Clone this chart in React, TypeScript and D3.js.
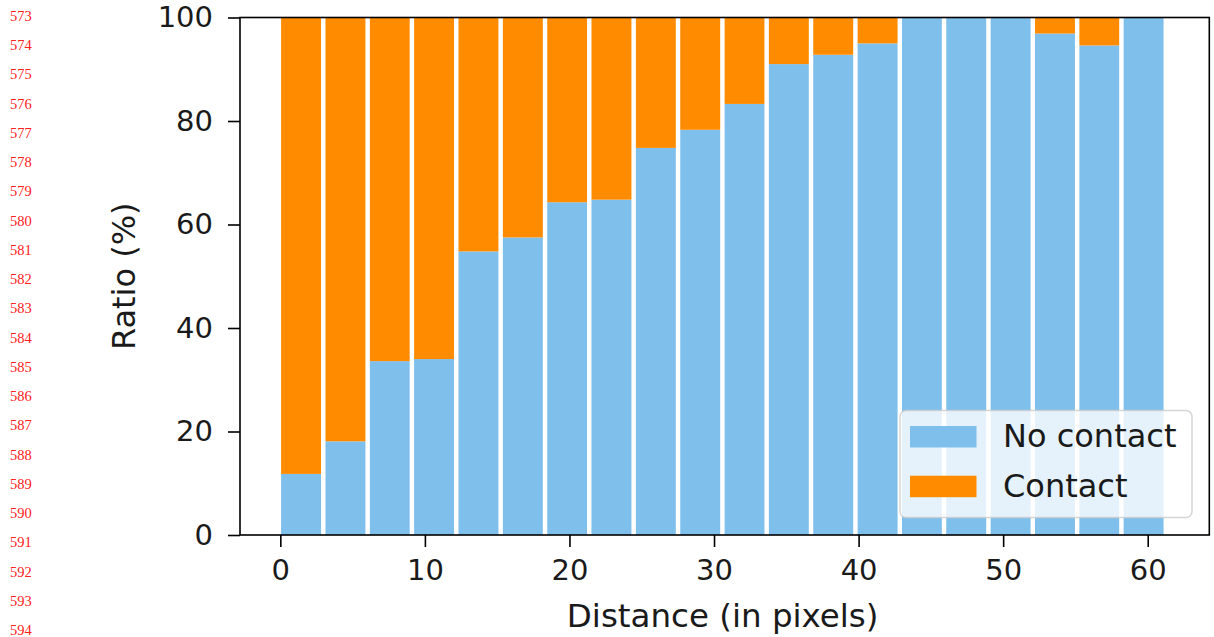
import { useEffect, useRef } from 'react';
import * as d3 from 'd3';

// histogram bin edges (distance in pixels), 20 bins
const binEdges = [
  -0.1, 2.97, 6.04, 9.1, 12.17, 15.24, 18.31, 21.37, 24.44, 27.51, 30.58,
  33.64, 36.71, 39.78, 42.85, 45.91, 48.98, 52.05, 55.12, 58.18, 61.25,
];
// share of "No contact" per bin (%), contact is the rest
const noContact = [
  11.8, 18.1, 33.6, 34.0, 54.8, 57.5, 64.3, 64.8, 74.8, 78.3,
  83.3, 91.0, 92.8, 95.0, 100, 100, 100, 96.9, 94.6, 100,
];
const xTicks = [0, 10, 20, 30, 40, 50, 60];
const yTicks = [0, 20, 40, 60, 80, 100];
const seriesNames = ['No contact', 'Contact'];
const seriesColors = ['#7fbfec', '#ff8c00'];
const lineNumbers = d3.range(573, 595);

const W = 1214;
const H = 637;

const App = () => {
  const svgRef = useRef<SVGSVGElement>(null);

  useEffect(() => {
    const svg = d3.select(svgRef.current);
    svg.selectAll('*').remove();

    const left = 240, right = 1209.3, top = 17.5, bottom = 535;
    const font = '"DejaVu Sans", sans-serif';

    const x = d3.scaleLinear().domain([-2.79, 64.26]).range([left, right]);
    const y = d3.scaleLinear().domain([0, 100]).range([bottom, top]);

    // red line numbers of the page margin
    svg.append('g')
      .selectAll('text')
      .data(lineNumbers)
      .enter()
      .append('text')
      .attr('x', 10)
      .attr('y', (d, i) => 21 + i * 29.24)
      .style('font-family', '"Liberation Serif", serif')
      .style('font-size', '14.5px')
      .style('fill', '#ff2020')
      .text(d => d);

    svg.append('clipPath')
      .attr('id', 'plot-clip')
      .append('rect')
      .attr('x', left)
      .attr('y', top)
      .attr('width', right - left)
      .attr('height', bottom - top);

    const bins = noContact.map((v, i) => ({
      x0: binEdges[i],
      x1: binEdges[i + 1],
      noContact: v,
    }));

    const plot = svg.append('g').attr('clip-path', 'url(#plot-clip)');

    // hist with rwidth 0.9
    const barX = d => {
      const w = x(d.x1) - x(d.x0);
      return x(d.x0) + w * 0.05;
    };
    const barW = d => (x(d.x1) - x(d.x0)) * 0.9;

    plot.selectAll('.bar-nc')
      .data(bins)
      .enter()
      .append('rect')
      .attr('x', barX)
      .attr('width', barW)
      .attr('y', d => y(d.noContact))
      .attr('height', d => y(0) - y(d.noContact))
      .attr('fill', seriesColors[0]);

    plot.selectAll('.bar-c')
      .data(bins)
      .enter()
      .append('rect')
      .attr('x', barX)
      .attr('width', barW)
      .attr('y', y(100))
      .attr('height', d => y(d.noContact) - y(100))
      .attr('fill', seriesColors[1]);

    // x axis
    const xAxis = svg.append('g')
      .attr('transform', `translate(0,${bottom})`)
      .call(d3.axisBottom(x).tickValues(xTicks).tickSize(12).tickPadding(12).tickFormat(d3.format('d')));
    xAxis.select('.domain').remove();
    xAxis.selectAll('text')
      .style('font-family', font)
      .style('font-size', '29px')
      .style('fill', '#1a1a1a');
    xAxis.selectAll('line').attr('stroke', '#000').attr('stroke-width', 1.6);

    // y axis
    const yAxis = svg.append('g')
      .attr('transform', `translate(${left},0)`)
      .call(d3.axisLeft(y).tickValues(yTicks).tickSize(12).tickPadding(15));
    yAxis.select('.domain').remove();
    yAxis.selectAll('text')
      .style('font-family', font)
      .style('font-size', '29px')
      .style('fill', '#1a1a1a');
    yAxis.selectAll('line').attr('stroke', '#000').attr('stroke-width', 1.6);

    // frame
    svg.append('rect')
      .attr('x', left)
      .attr('y', top)
      .attr('width', right - left)
      .attr('height', bottom - top)
      .attr('fill', 'none')
      .attr('stroke', '#000')
      .attr('stroke-width', 1.6);

    // axis labels
    svg.append('text')
      .attr('x', (left + right) / 2 - 2)
      .attr('y', 627)
      .attr('text-anchor', 'middle')
      .style('font-family', font)
      .style('font-size', '32.5px')
      .style('fill', '#1a1a1a')
      .text('Distance (in pixels)');

    svg.append('text')
      .attr('transform', `translate(135,${(top + bottom) / 2}) rotate(-90)`)
      .attr('text-anchor', 'middle')
      .style('font-family', font)
      .style('font-size', '32px')
      .style('fill', '#1a1a1a')
      .text('Ratio (%)');

    // legend
    const legend = svg.append('g').attr('transform', 'translate(900,410.5)');
    legend.append('rect')
      .attr('width', 292)
      .attr('height', 107)
      .attr('rx', 6)
      .attr('fill', 'rgba(255,255,255,0.8)')
      .attr('stroke', 'rgba(204,204,204,0.8)')
      .attr('stroke-width', 1.5);

    const items = legend.selectAll('.legend-item')
      .data(seriesNames)
      .enter()
      .append('g')
      .attr('transform', (d, i) => `translate(10,${15.5 + i * 49.7})`);

    items.append('rect')
      .attr('width', 66.5)
      .attr('height', 21.5)
      .attr('fill', (d, i) => seriesColors[i]);

    items.append('text')
      .attr('x', 93)
      .attr('y', 21)
      .style('font-family', font)
      .style('font-size', '32px')
      .style('fill', '#1a1a1a')
      .text(d => d);
  }, []);

  return (
    <div style={{ position: 'absolute', left: 0, top: 0 }}>
      <svg ref={svgRef} width={W} height={H} style={{ display: 'block', background: '#fff' }} />
    </div>
  );
};

export default App;
